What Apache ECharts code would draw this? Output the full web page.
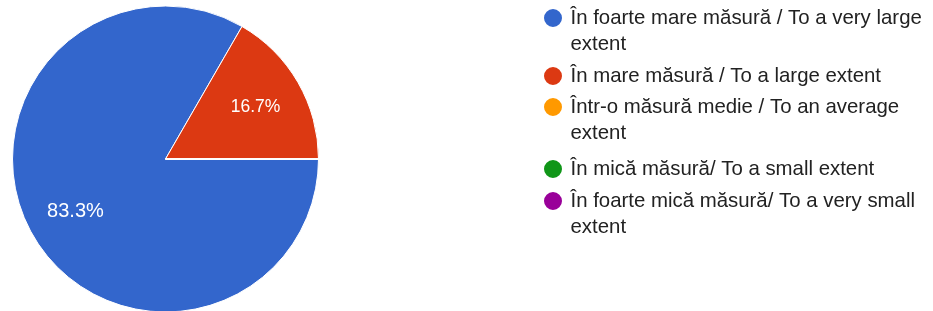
<!DOCTYPE html>
<html>
<head>
<meta charset="utf-8">
<script src="https://cdn.jsdelivr.net/npm/echarts@6/dist/echarts.min.js"></script>
<style>
  html, body { margin: 0; padding: 0; background: #fff; }
  #chart { width: 933px; height: 311px; }
</style>
</head>
<body>
<div id="chart"></div>
<script>
const categories = [
  'În foarte mare măsură / To a very large extent',
  'În mare măsură / To a large extent',
  'Într-o măsură medie / To an average extent',
  'În mică măsură/ To a small extent',
  'În foarte mică măsură/ To a very small extent'
];
const responses = [5, 1, 0, 0, 0];
const colors = ['#3366cc', '#dc3912', '#ff9900', '#109618', '#990099'];

const FONT = "'Liberation Sans', Arial, sans-serif";
const LEGEND_SIZE = 20.4;
const LEGEND_LH = 26;
const LEGEND_WIDTH = 360;
// y of the first text line of each legend entry
const legendRows = [18, 76, 107, 169, 201];

// wrap legend text the way the original does (break before the word that overflows)
const measure = document.createElement('canvas').getContext('2d');
measure.font = LEGEND_SIZE + 'px ' + FONT;
function wrap(text) {
  const words = text.split(' ');
  const lines = [];
  let cur = '';
  words.forEach(w => {
    const t = cur ? cur + ' ' + w : w;
    if (cur && measure.measureText(t).width > LEGEND_WIDTH) {
      lines.push(cur);
      cur = w;
    } else {
      cur = t;
    }
  });
  lines.push(cur);
  return lines;
}

// one legend per entry so the dot sits on the first line of wrapped text
const legends = categories.map((name, i) => {
  const lines = wrap(name);
  const n = lines.length > 1 ? lines.length + 1 : 1; // blank line on top re-centres the block
  return {
    data: [{ name: name, itemStyle: { color: colors[i] } }],
    orient: 'vertical',
    left: 542,
    top: legendRows[i] - n * LEGEND_LH / 2,
    padding: 0,
    icon: 'circle',
    itemWidth: 25,
    itemHeight: 20,
    itemTextGap: 5,
    selectedMode: false,
    formatter: () => (lines.length > 1 ? '\n' : '') + lines.join('\n'),
    textStyle: { fontFamily: FONT, fontSize: LEGEND_SIZE, lineHeight: LEGEND_LH, color: '#222' }
  };
});

const total = responses.reduce((a, b) => a + b, 0);

const myChart = echarts.init(document.getElementById('chart'));
myChart.setOption({
  animation: false,
  legend: legends,
  series: [
    {
      name: 'slices',
      type: 'pie',
      center: [165.5, 159],
      radius: 153,
      startAngle: 0,
      clockwise: true,
      itemStyle: { borderColor: '#fff', borderWidth: 1 },
      label: { show: false },
      labelLine: { show: false },
      emphasis: { disabled: true },
      data: categories.map((n, i) => ({ name: n, value: responses[i], itemStyle: { color: colors[i] } }))
    },
    {
      // transparent ring, only used to place the percentage labels further out
      name: 'labels',
      type: 'pie',
      center: [165.5, 159],
      radius: [49, 153],
      startAngle: 0,
      clockwise: true,
      silent: true,
      percentPrecision: 1,
      itemStyle: { color: 'rgba(0,0,0,0)', borderWidth: 0 },
      label: {
        position: 'inside',
        formatter: p => (p.value ? p.percent.toFixed(1) + '%' : ''),
        color: '#fff',
        fontSize: 20,
        fontFamily: FONT,
        textBorderWidth: 0
      },
      labelLine: { show: false },
      // small slices get a smaller label, as in the original
      data: categories.map((n, i) => ({
        name: n,
        value: responses[i],
        label: { fontSize: responses[i] / total < 0.25 ? 17.5 : 20 }
      }))
    }
  ]
});
</script>
</body>
</html>
